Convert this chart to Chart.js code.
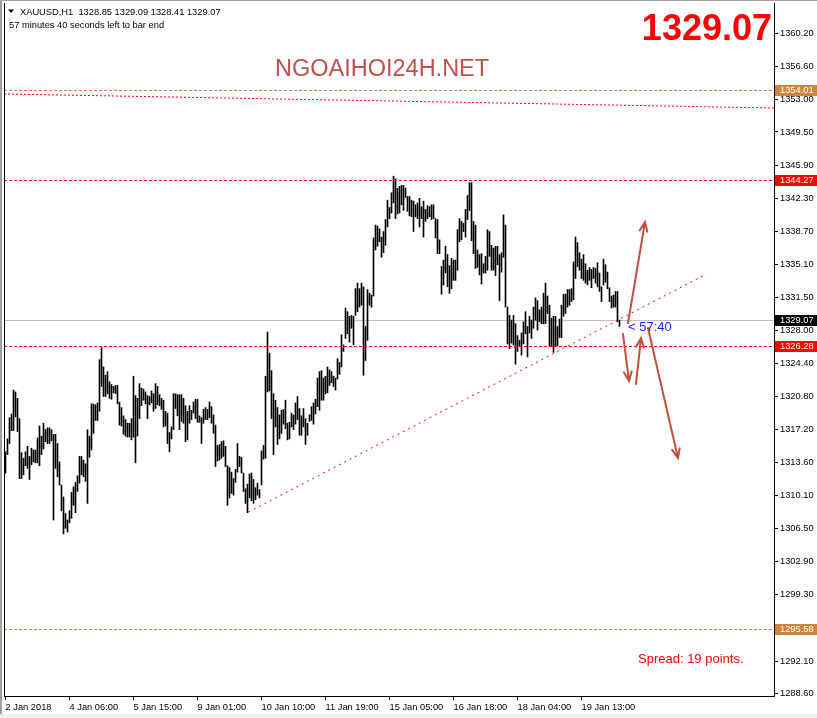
<!DOCTYPE html>
<html>
<head>
<meta charset="utf-8">
<script src="https://cdn.jsdelivr.net/npm/chart.js@4.4.1/dist/chart.umd.min.js"></script>
<style>
  html, body { margin: 0; padding: 0; background: #fff; overflow: hidden; }
  canvas { display: block; }
</style>
</head>
<body>
<canvas id="chart" width="817" height="718"></canvas>
<script>
// XAUUSD H1 - bars are index-based (one per hour, weekends skipped like MT4)
const symbol = "XAUUSD,H1";
const lastOhlc = [1328.85, 1329.09, 1328.41, 1329.07];
const timerText = "57 minutes 40 seconds left to bar end";
const countdown = "< 57:40";
const spreadText = "Spread: 19 points.";
const siteText = "NGOAIHOI24H.NET";

const timeTickIdx = [0, 32, 64, 96, 128, 160, 192, 224, 256, 288];
const timeLabels = ["2 Jan 2018", "4 Jan 06:00", "5 Jan 15:00", "9 Jan 01:00", "10 Jan 10:00",
  "11 Jan 19:00", "15 Jan 05:00", "16 Jan 18:00", "18 Jan 04:00", "19 Jan 13:00"];

const priceTicks = [1360.20, 1356.60, 1353.00, 1349.50, 1345.90, 1342.30, 1338.70, 1335.10, 1331.50,
  1328.00, 1324.40, 1320.80, 1317.20, 1313.60, 1310.10, 1306.50, 1302.90, 1299.30, 1292.10, 1288.60];

// bar highs / lows
const highs = [
  1314.8, 1316.2, 1318.5, 1318.9, 1321.5, 1321.3, 1320.6, 1318.4, 1314.7, 1314.1,
  1314.8, 1315.4, 1314.3, 1315.2, 1315.0, 1315.0, 1316.3, 1317.6, 1316.5, 1317.9,
  1317.2, 1317.4, 1317.4, 1317.2, 1316.7, 1316.7, 1315.7, 1313.7, 1311.2, 1309.9,
  1308.1, 1307.4, 1308.4, 1310.4, 1311.0, 1311.5, 1312.2, 1314.3, 1314.3, 1313.9,
  1313.5, 1317.2, 1316.5, 1320.0, 1320.0, 1319.9, 1320.1, 1324.8, 1326.1, 1324.0,
  1323.1, 1323.5, 1322.4, 1322.1, 1321.9, 1322.0, 1322.0, 1320.2, 1319.6, 1318.7,
  1318.3, 1317.9, 1317.9, 1318.4, 1323.0, 1320.9, 1320.6, 1322.2, 1321.7, 1321.6,
  1321.3, 1320.9, 1320.8, 1321.4, 1321.1, 1322.2, 1321.9, 1321.0, 1320.6, 1320.4,
  1319.2, 1319.0, 1316.9, 1317.5, 1321.1, 1321.1, 1321.0, 1321.0, 1321.0, 1320.6,
  1319.8, 1319.2, 1319.8, 1319.3, 1320.2, 1320.5, 1320.5, 1318.7, 1318.5, 1319.4,
  1319.6, 1319.4, 1320.2, 1319.7, 1318.8, 1317.7, 1315.5, 1315.6, 1315.9, 1316.0,
  1315.4, 1313.3, 1313.1, 1312.6, 1311.9, 1312.9, 1315.7, 1314.3, 1314.2, 1312.5,
  1310.8, 1311.3, 1312.4, 1312.5, 1311.8, 1310.9, 1311.4, 1310.7, 1314.9, 1315.5,
  1323.0, 1327.8, 1325.5, 1323.6, 1321.1, 1320.4, 1319.6, 1318.8, 1319.3, 1319.4,
  1320.4, 1317.9, 1318.0, 1319.0, 1318.8, 1320.1, 1320.8, 1319.5, 1318.7, 1319.5,
  1318.4, 1317.9, 1318.8, 1319.7, 1320.1, 1320.5, 1322.8, 1323.5, 1323.6, 1322.8,
  1323.0, 1324.0, 1323.7, 1323.5, 1323.0, 1322.8, 1324.9, 1324.5, 1327.5, 1326.4,
  1330.4, 1330.0, 1329.5, 1329.6, 1329.5, 1332.5, 1333.1, 1332.5, 1333.1, 1332.7,
  1328.4, 1332.4, 1332.0, 1331.8, 1338.0, 1339.4, 1339.3, 1339.0, 1338.1, 1338.7,
  1340.0, 1342.1, 1341.3, 1342.9, 1344.7, 1344.4, 1343.4, 1343.6, 1343.7, 1343.7,
  1343.4, 1342.5, 1342.5, 1342.1, 1342.0, 1341.6, 1341.8, 1342.3, 1341.4, 1342.0,
  1341.1, 1341.5, 1341.4, 1341.6, 1341.6, 1340.1, 1340.0, 1337.8, 1334.9, 1335.6,
  1337.1, 1336.2, 1335.0, 1335.8, 1335.6, 1335.6, 1338.9, 1340.1, 1339.8, 1339.6,
  1341.1, 1342.6, 1344.0, 1344.0, 1339.8, 1339.4, 1336.7, 1336.2, 1336.3, 1335.2,
  1336.0, 1338.9, 1338.7, 1337.2, 1336.9, 1337.1, 1337.1, 1336.2, 1336.4, 1340.5,
  1339.4, 1330.5, 1329.6, 1329.1, 1329.6, 1328.7, 1327.4, 1326.9, 1327.7, 1328.9,
  1330.0, 1328.4, 1329.5, 1329.1, 1330.5, 1331.5, 1331.2, 1330.2, 1330.5, 1332.0,
  1333.1, 1331.7, 1330.7, 1329.3, 1329.5, 1329.5, 1328.4, 1329.2, 1330.7, 1331.9,
  1331.9, 1332.4, 1332.4, 1332.5, 1335.4, 1338.1, 1337.5, 1336.4, 1335.7, 1336.2,
  1335.2, 1334.5, 1334.8, 1334.6, 1334.8, 1334.7, 1335.3, 1334.2, 1332.7, 1335.7,
  1335.1, 1334.3, 1332.6, 1331.7, 1331.8, 1332.2, 1332.2, 1329.09
];
const lows = [
  1312.5, 1314.5, 1315.7, 1317.1, 1317.1, 1318.6, 1317.0, 1311.9, 1311.9, 1312.3,
  1313.3, 1313.0, 1311.8, 1313.4, 1313.7, 1313.6, 1313.6, 1313.3, 1314.5, 1315.1,
  1315.9, 1315.7, 1315.7, 1316.0, 1307.4, 1313.0, 1312.1, 1311.2, 1308.4, 1305.9,
  1306.5, 1306.1, 1307.1, 1307.6, 1309.0, 1308.2, 1310.5, 1311.4, 1312.3, 1312.1,
  1311.6, 1309.2, 1314.2, 1315.0, 1316.8, 1318.2, 1318.2, 1319.2, 1321.9, 1320.8,
  1320.8, 1321.1, 1320.6, 1320.5, 1321.2, 1321.1, 1320.0, 1317.7, 1317.6, 1316.7,
  1316.5, 1316.4, 1316.4, 1316.1, 1316.4, 1313.6, 1316.5, 1318.4, 1319.8, 1320.4,
  1320.0, 1318.4, 1319.9, 1320.1, 1319.2, 1319.5, 1319.9, 1319.8, 1319.4, 1317.5,
  1317.6, 1315.7, 1314.8, 1316.2, 1317.2, 1319.5, 1318.7, 1317.2, 1318.1, 1317.9,
  1315.9, 1316.1, 1317.9, 1318.3, 1319.0, 1318.4, 1318.0, 1318.0, 1315.7, 1317.9,
  1318.3, 1318.3, 1318.5, 1317.9, 1316.8, 1313.2, 1313.8, 1313.9, 1314.1, 1314.3,
  1313.2, 1309.0, 1309.8, 1310.3, 1310.1, 1311.5, 1312.6, 1313.2, 1312.5, 1310.5,
  1309.2, 1308.2, 1309.8, 1309.5, 1309.2, 1309.6, 1310.1, 1309.8, 1311.2, 1314.0,
  1314.1, 1321.3, 1321.4, 1318.4, 1314.5, 1317.5, 1315.6, 1316.2, 1316.8, 1317.8,
  1317.3, 1316.1, 1316.2, 1317.5, 1317.2, 1317.8, 1318.3, 1316.6, 1316.6, 1317.5,
  1315.6, 1316.6, 1318.1, 1318.2, 1317.8, 1318.9, 1319.7, 1319.3, 1320.4, 1320.4,
  1321.1, 1321.2, 1322.0, 1322.3, 1321.9, 1321.5, 1322.7, 1323.2, 1324.0, 1325.7,
  1327.1, 1327.6, 1326.7, 1328.2, 1326.4, 1329.6, 1330.0, 1330.5, 1330.7, 1323.1,
  1324.7, 1326.9, 1330.7, 1330.5, 1331.7, 1336.7, 1337.1, 1337.6, 1335.9, 1336.4,
  1337.2, 1339.2, 1340.1, 1340.7, 1341.8, 1340.1, 1340.6, 1340.7, 1341.6, 1341.0,
  1342.4, 1340.9, 1340.4, 1340.3, 1338.7, 1340.3, 1340.1, 1339.2, 1340.1, 1338.1,
  1339.8, 1340.1, 1340.3, 1340.0, 1340.1, 1338.0, 1336.3, 1336.3, 1331.9, 1332.9,
  1334.2, 1332.7, 1332.0, 1332.5, 1333.4, 1333.4, 1334.5, 1337.6, 1337.8, 1338.7,
  1338.1, 1340.0, 1341.0, 1337.7, 1336.3, 1334.7, 1334.8, 1334.0, 1333.0, 1334.2,
  1334.2, 1334.5, 1336.0, 1334.5, 1334.5, 1333.9, 1335.1, 1331.2, 1334.3, 1335.9,
  1330.5, 1326.5, 1326.0, 1326.6, 1326.4, 1324.3, 1325.7, 1326.3, 1325.3, 1326.5,
  1327.6, 1325.1, 1327.7, 1327.1, 1328.2, 1329.1, 1328.0, 1328.9, 1328.7, 1328.7,
  1328.7, 1329.8, 1326.3, 1326.2, 1325.6, 1326.2, 1326.3, 1327.2, 1327.2, 1329.5,
  1329.8, 1330.5, 1330.7, 1331.1, 1331.3, 1333.6, 1334.9, 1334.5, 1333.6, 1333.4,
  1333.1, 1332.9, 1333.4, 1332.6, 1333.6, 1333.1, 1332.7, 1332.2, 1331.1, 1332.9,
  1333.2, 1332.5, 1331.1, 1330.4, 1330.5, 1330.5, 1328.9, 1328.41
];

// horizontal levels drawn on the chart
const levelValues = [1354.01, 1344.27, 1326.28, 1295.58];
const levelKinds = ["tan", "red", "red", "tan"];

// trend lines as [barIndex, price] pairs
const trendLine = [[121.5, 1308.27], [350.5, 1334.09]];
const topLine = [[-0.75, 1353.62], [384.25, 1352.10]];

// hand drawn arrows [fromIdx, fromPrice, toIdx, toPrice]
const arrows = [
  [311.25, 1328.77, 319.75, 1339.73],
  [308.75, 1327.58, 311.75, 1322.48],
  [315.25, 1322.15, 317.75, 1327.14],
  [321.25, 1328.23, 336.25, 1314.13]
];

const FONT = "Liberation Sans";
const colors = { tan: "#CD853F", red: "#FF0000", arrow: "#C0503C", bid: "#C0C0C0" };

const bars = highs.map((h, i) => ({ x: i, y: [lows[i], h] }));

function dashLine(ctx, x1, y1, x2, y2, color, dash) {
  ctx.save();
  ctx.strokeStyle = color;
  ctx.lineWidth = 1;
  ctx.setLineDash(dash);
  ctx.beginPath();
  ctx.moveTo(x1, y1);
  ctx.lineTo(x2, y2);
  ctx.stroke();
  ctx.restore();
}

function priceBox(ctx, y, value, bg) {
  ctx.fillStyle = bg;
  ctx.fillRect(775, Math.round(y) - 5, 42, 11);
  ctx.fillStyle = "#fff";
  ctx.font = "9.3px " + FONT;
  ctx.textBaseline = "middle";
  ctx.textAlign = "left";
  ctx.fillText(value.toFixed(2), 780, Math.round(y) + 0.5);
}

// kill the label overflow padding so the plot area sits where MT4 has it
function noPad(s) {
  s.paddingTop = 0; s.paddingBottom = 0; s.paddingLeft = 0; s.paddingRight = 0;
}

const mtDecor = {
  id: "mtDecor",
  beforeDatasetsDraw(chart) {
    const { ctx, chartArea: a, scales: { y } } = chart;
    const py = Math.round(y.getPixelForValue(lastOhlc[3])) + 0.5;
    dashLine(ctx, a.left, py, a.right, py, colors.bid, []);
  },
  afterDatasetsDraw(chart) {
    const { ctx, chartArea: a, scales: { x, y } } = chart;
    ctx.save();
    ctx.beginPath();
    ctx.rect(a.left, a.top, a.right - a.left, a.bottom - a.top);
    ctx.clip();
    levelValues.forEach((v, i) => {
      const py = Math.round(y.getPixelForValue(v)) + 0.5;
      dashLine(ctx, a.left, py, a.right, py, colors[levelKinds[i]], [3, 2]);
    });
    dashLine(ctx, x.getPixelForValue(topLine[0][0]), y.getPixelForValue(topLine[0][1]),
      x.getPixelForValue(topLine[1][0]), y.getPixelForValue(topLine[1][1]), colors.red, [2, 2]);
    dashLine(ctx, x.getPixelForValue(trendLine[0][0]), y.getPixelForValue(trendLine[0][1]),
      x.getPixelForValue(trendLine[1][0]), y.getPixelForValue(trendLine[1][1]), colors.red, [2, 4]);

    // arrows
    ctx.strokeStyle = colors.arrow;
    ctx.lineWidth = 2;
    ctx.lineCap = "round";
    arrows.forEach(ar => {
      const x1 = x.getPixelForValue(ar[0]), y1 = y.getPixelForValue(ar[1]);
      const x2 = x.getPixelForValue(ar[2]), y2 = y.getPixelForValue(ar[3]);
      const ang = Math.atan2(y2 - y1, x2 - x1);
      ctx.beginPath();
      ctx.moveTo(x1, y1);
      ctx.lineTo(x2, y2);
      ctx.moveTo(x2 - 10 * Math.cos(ang - 0.4), y2 - 10 * Math.sin(ang - 0.4));
      ctx.lineTo(x2, y2);
      ctx.lineTo(x2 - 10 * Math.cos(ang + 0.4), y2 - 10 * Math.sin(ang + 0.4));
      ctx.stroke();
    });
    ctx.restore();
  },
  afterDraw(chart) {
    const { ctx, chartArea: a, scales: { y } } = chart;
    ctx.save();
    // window frame bits
    ctx.fillStyle = "#A0A0A0";
    ctx.fillRect(0, 0, 2, 718);
    ctx.fillRect(0, 0, 817, 1);
    ctx.fillStyle = "#F0F0F0";
    ctx.fillRect(0, 714, 817, 4);
    ctx.fillStyle = "#000";
    ctx.fillRect(a.left, a.top, 1, a.bottom - a.top);

    // price boxes on the axis
    levelValues.forEach((v, i) => priceBox(ctx, y.getPixelForValue(v), v, colors[levelKinds[i]]));
    priceBox(ctx, y.getPixelForValue(lastOhlc[3]), lastOhlc[3], "#000");

    // header
    ctx.fillStyle = "#000";
    ctx.beginPath();
    ctx.moveTo(8, 9.5); ctx.lineTo(14, 9.5); ctx.lineTo(11, 13); ctx.closePath();
    ctx.fill();
    ctx.font = "9.3px " + FONT;
    ctx.textBaseline = "alphabetic";
    ctx.textAlign = "left";
    ctx.fillText(symbol + "  " + lastOhlc.map(v => v.toFixed(2)).join(" "), 20, 15);
    ctx.fillText(timerText, 9, 28);

    ctx.fillStyle = "#C0504D";
    ctx.font = "23.5px " + FONT;
    ctx.fillText(siteText, 275, 76);

    ctx.fillStyle = "#FF0000";
    ctx.font = "bold 36px " + FONT;
    ctx.textAlign = "right";
    ctx.fillText(lastOhlc[3].toFixed(2), 772, 40);

    ctx.textAlign = "left";
    ctx.font = "13px " + FONT;
    ctx.fillText(spreadText, 638, 663);

    ctx.fillStyle = "#1E1EFF";
    ctx.fillText(countdown, 628, 331);
    ctx.restore();
  }
};

new Chart(document.getElementById("chart"), {
  type: "bar",
  data: {
    datasets: [{
      data: bars,
      backgroundColor: "#000",
      borderWidth: 0,
      barThickness: 1,
      grouped: false
    }]
  },
  options: {
    responsive: false,
    devicePixelRatio: 1,
    animation: false,
    layout: { padding: { left: 4, top: 3, right: 0, bottom: 0 } },
    plugins: { legend: { display: false }, tooltip: { enabled: false } },
    scales: {
      x: {
        type: "linear",
        min: -0.75,
        max: 384.25,
        offset: false,
        afterBuildTicks: s => { s.ticks = timeTickIdx.map(v => ({ value: v })); },
        afterFit: s => { s.height = 22; noPad(s); },
        grid: { drawOnChartArea: false, offset: false, tickLength: 4, tickColor: "#000" },
        border: { color: "#000" },
        ticks: {
          autoSkip: false, maxRotation: 0, minRotation: 0, align: "start", padding: 2,
          color: "#000", font: { family: FONT, size: 9.3 },
          callback: (v, i) => timeLabels[i]
        }
      },
      y: {
        position: "right",
        min: 1288.31,
        max: 1363.49,
        afterBuildTicks: s => { s.ticks = priceTicks.map(v => ({ value: v })); },
        afterFit: s => { s.width = 43; noPad(s); },
        grid: { drawOnChartArea: false, tickLength: 4, tickColor: "#000" },
        border: { color: "#000" },
        ticks: {
          padding: 2, color: "#000", font: { family: FONT, size: 9.3 },
          callback: v => v.toFixed(2)
        }
      }
    }
  },
  plugins: [mtDecor]
});
</script>
</body>
</html>
